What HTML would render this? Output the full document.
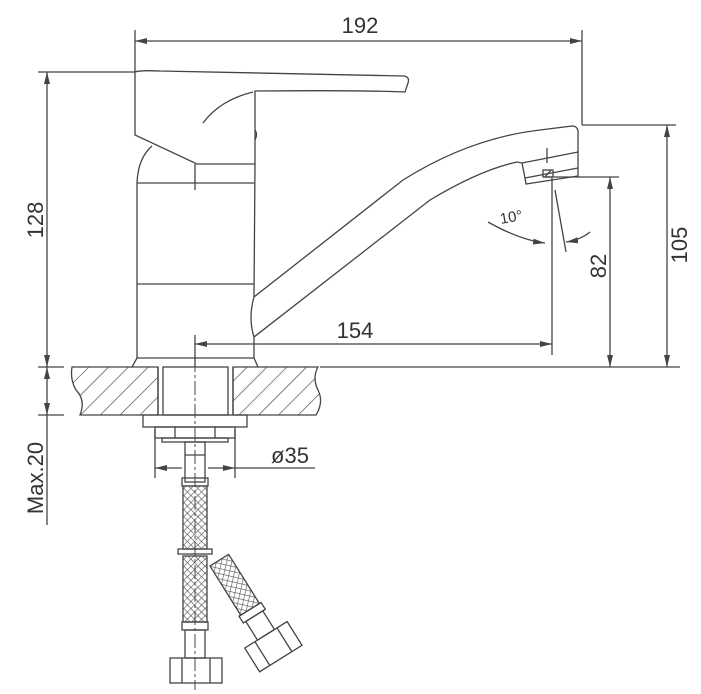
<!DOCTYPE html>
<html><head><meta charset="utf-8"><style>
html,body{margin:0;padding:0;background:#fff;}
svg{display:block;}
text{font-family:"Liberation Sans",sans-serif;fill:#333;}
</style></head><body>
<svg width="701" height="694" viewBox="0 0 701 694" xmlns="http://www.w3.org/2000/svg">
<defs>
<pattern id="hatch" width="14" height="14" patternUnits="userSpaceOnUse" patternTransform="rotate(45)">
<line x1="0" y1="0" x2="0" y2="14" stroke="#444" stroke-width="1.3"/>
</pattern>
<pattern id="mesh" width="5" height="5" patternUnits="userSpaceOnUse" patternTransform="rotate(45)">
<rect width="5" height="5" fill="#fff"/>
<path d="M0 0H5M0 0V5" stroke="#555" stroke-width="1.2"/>
</pattern>
<marker id="ar" markerWidth="12" markerHeight="6" refX="12" refY="3" orient="auto" markerUnits="userSpaceOnUse">
<path d="M0 0L12 3L0 6Z" fill="#444"/>
</marker>
<marker id="al" markerWidth="12" markerHeight="6" refX="0" refY="3" orient="auto" markerUnits="userSpaceOnUse">
<path d="M12 0L0 3L12 6Z" fill="#444"/>
</marker>
</defs>
<g fill="none" stroke="#444" stroke-width="1.3">
<!-- top dim 192 -->
<line x1="135" y1="30" x2="135" y2="72"/>
<line x1="582" y1="30" x2="582" y2="125"/>
<line x1="135" y1="41" x2="582" y2="41" marker-start="url(#al)" marker-end="url(#ar)"/>
<!-- left dim 128 / Max20 -->
<line x1="38" y1="72" x2="135" y2="72"/>
<line x1="47" y1="72" x2="47" y2="367" marker-start="url(#al)" marker-end="url(#ar)"/>
<line x1="38" y1="367" x2="64" y2="367"/>
<line x1="38" y1="415" x2="64" y2="415"/>
<line x1="47" y1="367" x2="47" y2="415" marker-start="url(#al)" marker-end="url(#ar)"/>
<line x1="47" y1="415" x2="47" y2="525"/>
<!-- counter top line right -->
<line x1="320" y1="367" x2="680" y2="367"/>
<!-- right dims -->
<line x1="582" y1="125" x2="676" y2="125"/>
<line x1="667" y1="125" x2="667" y2="367" marker-start="url(#al)" marker-end="url(#ar)"/>
<line x1="545" y1="177" x2="619" y2="177"/>
<line x1="610" y1="177" x2="610" y2="367" marker-start="url(#al)" marker-end="url(#ar)"/>
<!-- 154 -->
<line x1="195" y1="335" x2="195" y2="367"/>
<line x1="195" y1="344" x2="552" y2="344" marker-start="url(#al)" marker-end="url(#ar)"/>
<line x1="552" y1="178" x2="552" y2="355"/>
<line x1="555" y1="190" x2="566" y2="252"/>
<path d="M488 222 Q520 240 545 243" marker-end="url(#ar)"/>
<path d="M590 232 Q580 240 566 242" marker-end="url(#ar)"/>
<!-- handle -->
<path d="M135 72 Q140 70 160 71 L404 76 Q410 77 408 83 L405 92 Q360 90 255 91 L255 164 L197 164 L135 135 Z"/>
<path d="M253 92 Q220 100 203 123"/>
<path d="M255 130 Q258 134 255 140"/>
<!-- body -->
<path d="M152 146 Q138 158 137 183 L137 358"/>
<line x1="255" y1="164" x2="254" y2="297"/>
<line x1="254" y1="337" x2="254" y2="358"/>
<line x1="137" y1="183" x2="254" y2="183"/>
<line x1="137" y1="284" x2="254" y2="284"/>
<line x1="195" y1="164" x2="195" y2="190"/>
<path d="M137 358 L132 367 M254 358 L258 367 M137 358 L254 358"/>
<!-- spout -->
<path d="M254 297 L403 180 Q470 138 540 130 L572 126 Q579 126 578 135 L578 152"/>
<path d="M254 297 Q248 318 254 337 L430 200 Q480 170 517 162 L522 163"/>
<path d="M522 163 L578 152 L578 168 L525 178 Z"/>
<path d="M525 178 L526 184 L578 176 L578 168"/>
<rect x="543" y="170" width="10" height="7"/>
<line x1="545" y1="177" x2="551" y2="170"/>
<line x1="547" y1="148" x2="547" y2="163"/>
<!-- counter -->
<path d="M72 367 L158 367 L158 415 L80 415 Q86 400 76 390 Q70 380 72 367 Z" fill="url(#hatch)"/>
<path d="M233 367 L318 367 Q312 378 318 390 Q324 402 316 415 L233 415 Z" fill="url(#hatch)"/>
<rect x="163" y="367" width="65" height="48"/>
<line x1="158" y1="367" x2="158" y2="415"/>
<line x1="233" y1="367" x2="233" y2="415"/>
<!-- washer & nut -->
<rect x="143" y="415" width="104" height="12"/>
<rect x="155" y="427" width="80" height="11"/>
<line x1="175" y1="427" x2="175" y2="438"/><line x1="215" y1="427" x2="215" y2="438"/>
<rect x="162" y="438" width="66" height="4"/>
<!-- ø35 -->
<line x1="155" y1="430" x2="155" y2="478"/>
<line x1="235" y1="430" x2="235" y2="478"/>
<line x1="155" y1="468" x2="182" y2="468" marker-start="url(#al)"/>
<line x1="208" y1="468" x2="235" y2="468" marker-end="url(#ar)"/>
<line x1="235" y1="468" x2="315" y2="468"/>
<!-- hose straight -->
<rect x="185" y="442" width="20" height="40"/>
<line x1="185" y1="455" x2="205" y2="455"/>
<rect x="182" y="478" width="26" height="8"/>
<rect x="183" y="486" width="24" height="63" fill="url(#mesh)"/>
<rect x="178" y="549" width="34" height="5"/>
<rect x="183" y="556" width="24" height="66" fill="url(#mesh)"/>
<rect x="182" y="622" width="26" height="8"/>
<rect x="185" y="630" width="20" height="28"/>
<rect x="170" y="658" width="52" height="25"/>
<line x1="182" y1="658" x2="182" y2="683"/><line x1="210" y1="658" x2="210" y2="683"/>
<!-- hose diagonal -->
<g transform="translate(210,566) rotate(-32)">
<rect x="0" y="0" width="22" height="58" fill="url(#mesh)"/>
<rect x="-2" y="58" width="26" height="8"/>
<rect x="1" y="66" width="20" height="22"/>
<rect x="-14" y="88" width="50" height="28"/>
<line x1="-2" y1="88" x2="-2" y2="116"/><line x1="24" y1="88" x2="24" y2="116"/>
</g>
<!-- centerline -->
<line x1="195" y1="335" x2="195" y2="690" stroke-dasharray="14 3 3 3" stroke-width="1"/>
</g>
<text x="360" y="33" font-size="22" text-anchor="middle">192</text>
<text x="355" y="338" font-size="22" text-anchor="middle">154</text>
<text x="290" y="463" font-size="22" text-anchor="middle">ø35</text>
<text transform="translate(43,220) rotate(-90)" font-size="22" text-anchor="middle">128</text>
<text transform="translate(43,478) rotate(-90)" font-size="22" text-anchor="middle">Max.20</text>
<text transform="translate(606,266) rotate(-90)" font-size="22" text-anchor="middle">82</text>
<text transform="translate(687,245) rotate(-90)" font-size="22" text-anchor="middle">105</text>
<text transform="translate(512,222) rotate(-10)" font-size="15" text-anchor="middle">10°</text>
</svg>
</body></html>
